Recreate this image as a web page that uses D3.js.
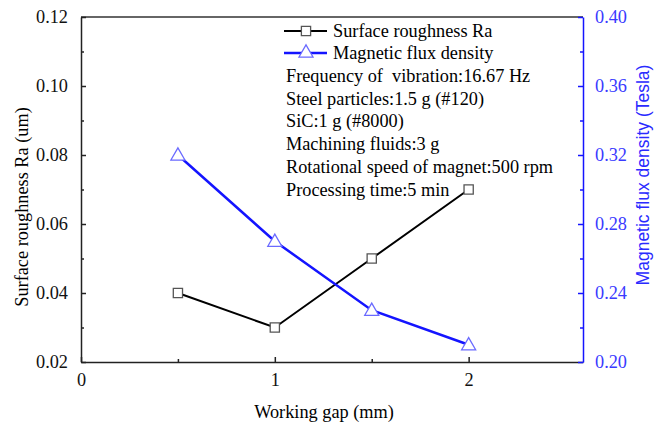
<!DOCTYPE html>
<meta charset="utf-8">
<style>
  body { margin: 0; background: #fff; }
  text { font-family: "Liberation Serif", "Times New Roman", serif; }
  .note { white-space: pre; }
</style>
<svg width="660" height="425"></svg>
<script src="https://cdn.jsdelivr.net/npm/d3@7"></script>
<script>
// data
var gaps = [0.5, 1, 1.5, 2];
var roughness = [0.04, 0.03, 0.05, 0.07];
var fluxDensity = [0.32, 0.27, 0.23, 0.21];
var xTicks = [0, 1, 2];
var leftTicks = [0.02, 0.04, 0.06, 0.08, 0.10, 0.12];
var rightTicks = [0.20, 0.24, 0.28, 0.32, 0.36, 0.40];
var notes = [
  "Frequency of  vibration:16.67 Hz",
  "Steel particles:1.5 g (#120)",
  "SiC:1 g (#8000)",
  "Machining fluids:3 g",
  "Rotational speed of magnet:500 rpm",
  "Processing time:5 min"
];

var blue = "#1414ff";
var fs = 18.3;
var svg = d3.select("svg");
var m = {left: 81, right: 583, top: 17, bottom: 362};

var x = d3.scaleLinear().domain([0, 2.59]).range([m.left, m.right]);
var yL = d3.scaleLinear().domain([0.02, 0.12]).range([m.bottom, m.top]);
var yR = d3.scaleLinear().domain([0.20, 0.40]).range([m.bottom, m.top]);

// top frame line
svg.append("line")
    .attr("x1", m.left).attr("x2", m.right)
    .attr("y1", m.top).attr("y2", m.top)
    .attr("stroke", "#333").attr("stroke-width", 1.5);

// bottom axis
var xa = svg.append("g")
    .attr("transform", "translate(0," + m.bottom + ")")
    .call(d3.axisBottom(x).tickValues(xTicks).tickFormat(d3.format("d")).tickSizeInner(-5).tickSizeOuter(0).tickPadding(11));
svg.append("g")
    .attr("transform", "translate(0," + m.bottom + ")")
    .call(d3.axisBottom(x).tickValues([0.5, 1.5]).tickFormat("").tickSizeInner(-3).tickSizeOuter(0))
    .select(".domain").remove();

// left axis
var ya = svg.append("g")
    .attr("transform", "translate(" + m.left + ",0)")
    .call(d3.axisLeft(yL).tickValues(leftTicks).tickFormat(d3.format(".2f")).tickSizeInner(-5).tickSizeOuter(0).tickPadding(13));
svg.append("g")
    .attr("transform", "translate(" + m.left + ",0)")
    .call(d3.axisLeft(yL).tickValues([0.03, 0.05, 0.07, 0.09, 0.11]).tickFormat("").tickSizeInner(-3).tickSizeOuter(0))
    .select(".domain").remove();

// right axis
var yr = svg.append("g")
    .attr("transform", "translate(" + m.right + ",0)")
    .call(d3.axisRight(yR).tickValues(rightTicks).tickFormat(d3.format(".2f")).tickSizeInner(-5).tickSizeOuter(0).tickPadding(12));
var yr2 = svg.append("g")
    .attr("transform", "translate(" + m.right + ",0)")
    .call(d3.axisRight(yR).tickValues([0.22, 0.26, 0.30, 0.34, 0.38]).tickFormat("").tickSizeInner(-3).tickSizeOuter(0));
yr2.select(".domain").remove();

[xa, ya].forEach(function(g) {
  g.selectAll("text").attr("font-size", fs).attr("font-family", "Liberation Serif").attr("fill", "#111");
});
svg.selectAll("g").filter(function() { return this !== yr.node() && this !== yr2.node(); })
    .selectAll("path, line").attr("stroke", "#222").attr("stroke-width", 1.5);
[yr, yr2].forEach(function(g) {
  g.selectAll("path, line").attr("stroke", blue).attr("stroke-width", 1.5);
});
yr.selectAll("text").attr("font-size", fs).attr("font-family", "Liberation Serif").attr("fill", "#3a3aff");

// axis titles
svg.append("text")
    .attr("x", 324).attr("y", 418)
    .attr("text-anchor", "middle").attr("font-size", fs)
    .text("Working gap (mm)");
svg.append("text")
    .attr("transform", "translate(28,207) rotate(-90)")
    .attr("text-anchor", "middle").attr("font-size", fs)
    .text("Surface roughness Ra (um)");
svg.append("text")
    .attr("transform", "translate(649,175) rotate(-90)")
    .attr("text-anchor", "middle").attr("font-size", 17.5)
    .style("font-family", "'Liberation Sans', Arial, sans-serif")
    .attr("fill", "#2a2aff")
    .text("Magnetic flux density (Tesla)");

// series
var ra = gaps.map(function(g, i) { return [g, roughness[i]]; });
var fl = gaps.map(function(g, i) { return [g, fluxDensity[i]]; });

svg.append("path")
    .datum(ra)
    .attr("fill", "none").attr("stroke", "#000").attr("stroke-width", 2)
    .attr("d", d3.line().x(function(d) { return x(d[0]); }).y(function(d) { return yL(d[1]); }));
svg.append("path")
    .datum(fl)
    .attr("fill", "none").attr("stroke", blue).attr("stroke-width", 2.5)
    .attr("d", d3.line().x(function(d) { return x(d[0]); }).y(function(d) { return yR(d[1]); }));

var sq = d3.symbol().type(d3.symbolSquare).size(85);
var tri = d3.symbol().type(d3.symbolTriangle).size(85);

svg.selectAll(".sq").data(ra).enter().append("path")
    .attr("class", "sq")
    .attr("transform", function(d) { return "translate(" + x(d[0]) + "," + yL(d[1]) + ")"; })
    .attr("d", sq).attr("fill", "#fff").attr("stroke", "#555").attr("stroke-width", 1.3);
svg.selectAll(".tri").data(fl).enter().append("path")
    .attr("class", "tri")
    .attr("transform", function(d) { return "translate(" + x(d[0]) + "," + (yR(d[1]) + 1) + ")"; })
    .attr("d", tri).attr("fill", "#fff").attr("stroke", "#6a6aff").attr("stroke-width", 1.3);

// legend
var lg = svg.append("g").attr("transform", "translate(284,0)");
lg.append("line").attr("x1", 0).attr("x2", 43).attr("y1", 31).attr("y2", 31).attr("stroke", "#000").attr("stroke-width", 2);
lg.append("path").attr("transform", "translate(22,31)").attr("d", sq).attr("fill", "#fff").attr("stroke", "#555").attr("stroke-width", 1.3);
lg.append("text").attr("x", 49).attr("y", 37).attr("font-size", fs).text("Surface roughness Ra");
lg.append("line").attr("x1", 0).attr("x2", 43).attr("y1", 53).attr("y2", 53).attr("stroke", blue).attr("stroke-width", 2.5);
lg.append("path").attr("transform", "translate(22,53)").attr("d", tri).attr("fill", "#fff").attr("stroke", "#6a6aff").attr("stroke-width", 1.3);
lg.append("text").attr("x", 49).attr("y", 59).attr("font-size", fs).text("Magnetic flux density");

lg.selectAll(".note").data(notes).enter().append("text")
    .attr("class", "note")
    .attr("x", 2)
    .attr("y", function(d, i) { return 82 + i * 22.7; })
    .attr("font-size", fs)
    .text(function(d) { return d; });
</script>
